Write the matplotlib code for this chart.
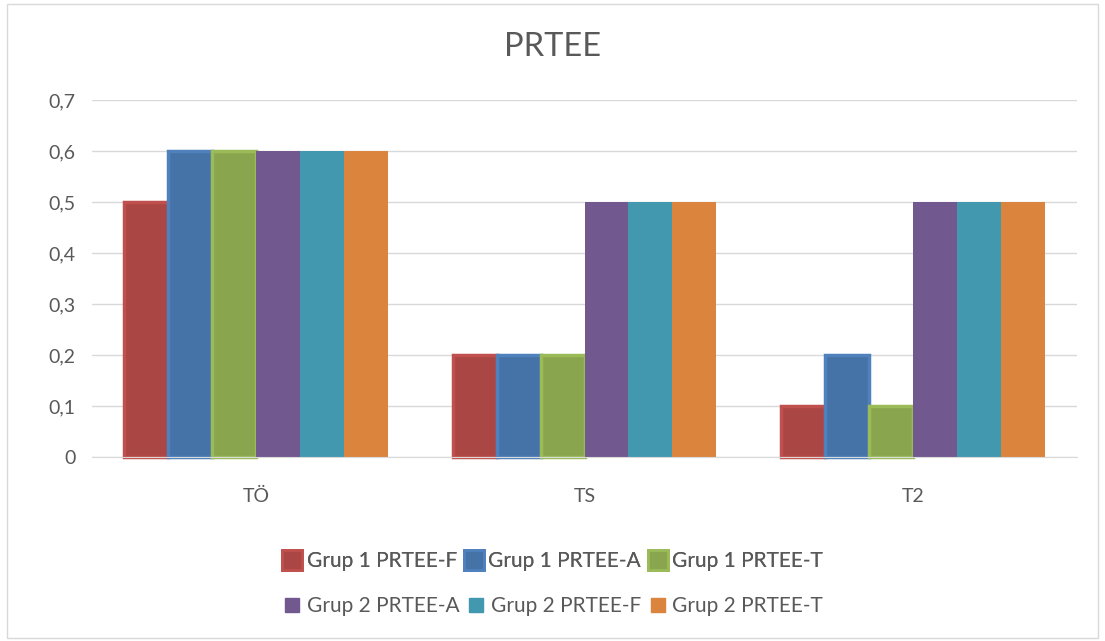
import matplotlib
matplotlib.use('Agg')
import matplotlib.pyplot as plt
from matplotlib.lines import Line2D
from matplotlib.patches import Rectangle
import numpy as np

plt.rcParams['font.family'] = ['Lato', 'DejaVu Sans']

categories = ['TÖ', 'TS', 'T2']
series_names = ['Grup 1 PRTEE-F', 'Grup 1 PRTEE-A', 'Grup 1 PRTEE-T',
                'Grup 2 PRTEE-A', 'Grup 2 PRTEE-F', 'Grup 2 PRTEE-T']
g1_f = [0.5, 0.2, 0.1]
g1_a = [0.6, 0.2, 0.2]
g1_t = [0.6, 0.2, 0.1]
g2_a = [0.6, 0.5, 0.5]
g2_f = [0.6, 0.5, 0.5]
g2_t = [0.6, 0.5, 0.5]
series = [g1_f, g1_a, g1_t, g2_a, g2_f, g2_t]

face_colors = ['#AA4643', '#4572A7', '#89A54E', '#71588F', '#4198AF', '#DB843D']
edge_colors = ['#C0504D', '#4F81BD', '#9BBB59', '#71588F', '#4198AF', '#DB843D']
edge_widths = [2.5, 2.5, 2.5, 0, 0, 0]

fig = plt.figure(figsize=(11.05, 6.41), dpi=100)
ax = fig.add_axes([92 / 1105, 1 - 457 / 641, 985 / 1105, 357 / 641])

# light frame around the whole chart area
fig.patches.append(Rectangle((7 / 1105, 3 / 641), 1091 / 1105, 634 / 641,
                             transform=fig.transFigure, fill=False,
                             edgecolor='#D9D9D9', linewidth=1))

x = np.arange(len(categories))
bw = 0.134
offsets = (np.arange(6) - 2.5) * bw
for i, vals in enumerate(series):
    ax.bar(x + offsets[i], vals, width=bw, color=face_colors[i],
           edgecolor=edge_colors[i], linewidth=edge_widths[i],
           clip_on=False, zorder=3)

ax.set_xlim(-0.5, 2.5)
ax.set_ylim(0, 0.7)
ax.set_yticks(np.arange(0, 0.71, 0.1))
ax.set_yticklabels(['0'] + [f'0,{i}' for i in range(1, 8)])
ax.set_xticks(x)
ax.set_xticklabels(categories)
ax.tick_params(axis='both', length=0, labelsize=14, colors='#595959', pad=12)
ax.tick_params(axis='x', pad=22)
ax.grid(axis='y', color='#D9D9D9', linewidth=1, zorder=0)
ax.set_axisbelow(True)
for s in ['top', 'right', 'left']:
    ax.spines[s].set_visible(False)
ax.spines['bottom'].set_color('#D9D9D9')
ax.spines['bottom'].set_zorder(4)

fig.text(0.5, 1 - 47 / 641, 'PRTEE', ha='center', va='center',
         fontsize=23.5, color='#595959')

handles = []
for i in range(6):
    if i < 3:
        h = Line2D([], [], linestyle='none', marker='s', markersize=15,
                   markerfacecolor=face_colors[i], markeredgecolor=edge_colors[i],
                   markeredgewidth=2)
    else:
        h = Line2D([], [], linestyle='none', marker='s', markersize=10,
                   markerfacecolor=face_colors[i], markeredgecolor=face_colors[i])
    handles.append(h)

leg_kw = dict(loc='center', ncol=3, frameon=False, fontsize=15,
              handlelength=1.0, handletextpad=0.2, columnspacing=0.3,
              labelcolor='#595959')
leg1 = fig.legend(handles[:3], series_names[:3],
                  bbox_to_anchor=(0.5, 1 - 561 / 641), **leg_kw)
leg2 = fig.legend(handles[3:], series_names[3:],
                  bbox_to_anchor=(0.5, 1 - 606 / 641), **leg_kw)
fig.add_artist(leg1)

fig.savefig('out.png', dpi=100)
